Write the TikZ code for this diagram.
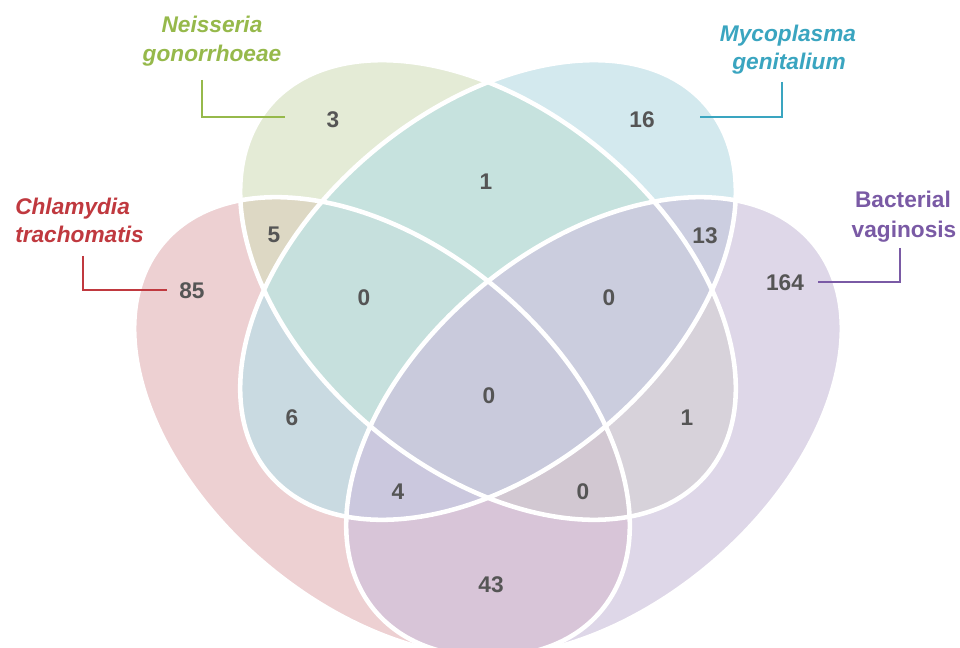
\documentclass[tikz,border=0pt]{standalone}
\usepackage{fontspec}
\setmainfont{Liberation Sans}
\definecolor{fC}{HTML}{EDD0D2}
\definecolor{fN}{HTML}{E4EBD6}
\definecolor{fM}{HTML}{D3E9EE}
\definecolor{fB}{HTML}{DED7E8}
\definecolor{fCN}{HTML}{DDD8C4}
\definecolor{fNM}{HTML}{C6E2DE}
\definecolor{fMB}{HTML}{CCCEE0}
\definecolor{fCM}{HTML}{C9DAE1}
\definecolor{fNB}{HTML}{D7D2DA}
\definecolor{fCB}{HTML}{D8C5D8}
\definecolor{fCNM}{HTML}{C6E0DD}
\definecolor{fNMB}{HTML}{CBCDDE}
\definecolor{fCMB}{HTML}{CBC8DE}
\definecolor{fCNB}{HTML}{D2C8D2}
\definecolor{fAll}{HTML}{C9CADC}
\definecolor{tC}{HTML}{C0393F}
\definecolor{tN}{HTML}{96B94B}
\definecolor{tM}{HTML}{3AA5C0}
\definecolor{tB}{HTML}{7A5AA5}
\definecolor{numcol}{HTML}{555555}
\newcommand\vclip[3]{\clip[rotate around={#3:(#1,#2)}] (#1,#2) ellipse [x radius=286, y radius=180];}
\newcommand\vdraw[3]{\draw[outline, rotate around={#3:(#1,#2)}] (#1,#2) ellipse [x radius=286, y radius=180];}
\newcommand\clipR{\vclip{382}{427}{-40}}
\newcommand\clipG{\vclip{488}{290}{-40}}
\newcommand\clipT{\vclip{488}{290}{40}}
\newcommand\clipV{\vclip{594}{427}{40}}
\newcommand\regfill[1]{\fill[#1] (0,0) rectangle (960,648);}
\begin{document}
\begin{tikzpicture}[x=0.75pt,y=-0.75pt,
  outline/.style={draw=white, line width=3.4pt},
  num/.style={text=numcol, font=\bfseries\fontsize{17}{20}\selectfont, inner sep=0pt},
  lab/.style={font=\bfseries\itshape\fontsize{17}{20}\selectfont, inner sep=0pt},
  labu/.style={font=\bfseries\fontsize{17}{20}\selectfont, inner sep=0pt},
  leader/.style={line width=1.5pt}]
\useasboundingbox (0,0) rectangle (960,648);
\fill[white] (0,0) rectangle (960,648);
\begin{scope}
\clip (0,0) rectangle (960,648);
% single sets
\begin{scope}\clipR\regfill{fC}\end{scope}
\begin{scope}\clipG\regfill{fN}\end{scope}
\begin{scope}\clipT\regfill{fM}\end{scope}
\begin{scope}\clipV\regfill{fB}\end{scope}
% pairs
\begin{scope}\clipR\clipG\regfill{fCN}\end{scope}
\begin{scope}\clipG\clipT\regfill{fNM}\end{scope}
\begin{scope}\clipT\clipV\regfill{fMB}\end{scope}
\begin{scope}\clipR\clipT\regfill{fCM}\end{scope}
\begin{scope}\clipG\clipV\regfill{fNB}\end{scope}
\begin{scope}\clipR\clipV\regfill{fCB}\end{scope}
% triples
\begin{scope}\clipR\clipG\clipT\regfill{fCNM}\end{scope}
\begin{scope}\clipG\clipT\clipV\regfill{fNMB}\end{scope}
\begin{scope}\clipR\clipT\clipV\regfill{fCMB}\end{scope}
\begin{scope}\clipR\clipG\clipV\regfill{fCNB}\end{scope}
% all four
\begin{scope}\clipR\clipG\clipT\clipV\regfill{fAll}\end{scope}
% outlines
\vdraw{382}{427}{-40}
\vdraw{488}{290}{-40}
\vdraw{488}{290}{40}
\vdraw{594}{427}{40}
\end{scope}
% numbers
\node[num] (n85) at (192,291) {85};
\node[num] (n3) at (333,120) {3};
\node[num] (n16) at (642,120) {16};
\node[num] (n164) at (785,283) {164};
\node[num] (n5) at (274,235) {5};
\node[num] (n1a) at (486,182) {1};
\node[num] (n13) at (705,236) {13};
\node[num] (n0a) at (364,298) {0};
\node[num] (n0b) at (609,298) {0};
\node[num] (n0c) at (489,396) {0};
\node[num] (n6) at (292,418) {6};
\node[num] (n1b) at (687,418) {1};
\node[num] (n4) at (398,492) {4};
\node[num] (n0d) at (583,492) {0};
\node[num] (n43) at (491,585) {43};
% labels
\node[lab, text=tC, anchor=base west] (lc1) at (15,215) {Chlamydia};
\node[lab, text=tC, anchor=base west] (lc2) at (15,243) {trachomatis};
\node[lab, text=tN, anchor=base] (ln1) at (212,33) {Neisseria};
\node[lab, text=tN, anchor=base] (ln2) at (212,62) {gonorrhoeae};
\node[lab, text=tM, anchor=base] (lm1) at (788,42) {Mycoplasma};
\node[lab, text=tM, anchor=base] (lm2) at (789,70) {genitalium};
\node[labu, text=tB, anchor=base] (lb1) at (903,208) {Bacterial};
\node[labu, text=tB, anchor=base] (lb2) at (904,238) {vaginosis};
% leader lines
\coordinate (kc1) at (83,256); \coordinate (kc2) at (167,290);
\coordinate (kn1) at (202,80); \coordinate (kn2) at (285,117);
\coordinate (km1) at (782,82); \coordinate (km2) at (700,117);
\coordinate (kb1) at (900,248); \coordinate (kb2) at (818,282);
\draw[leader, tC] (kc1) |- (kc2);
\draw[leader, tN] (kn1) |- (kn2);
\draw[leader, tM] (km1) |- (km2);
\draw[leader, tB] (kb1) |- (kb2);
\end{tikzpicture}
\end{document}
